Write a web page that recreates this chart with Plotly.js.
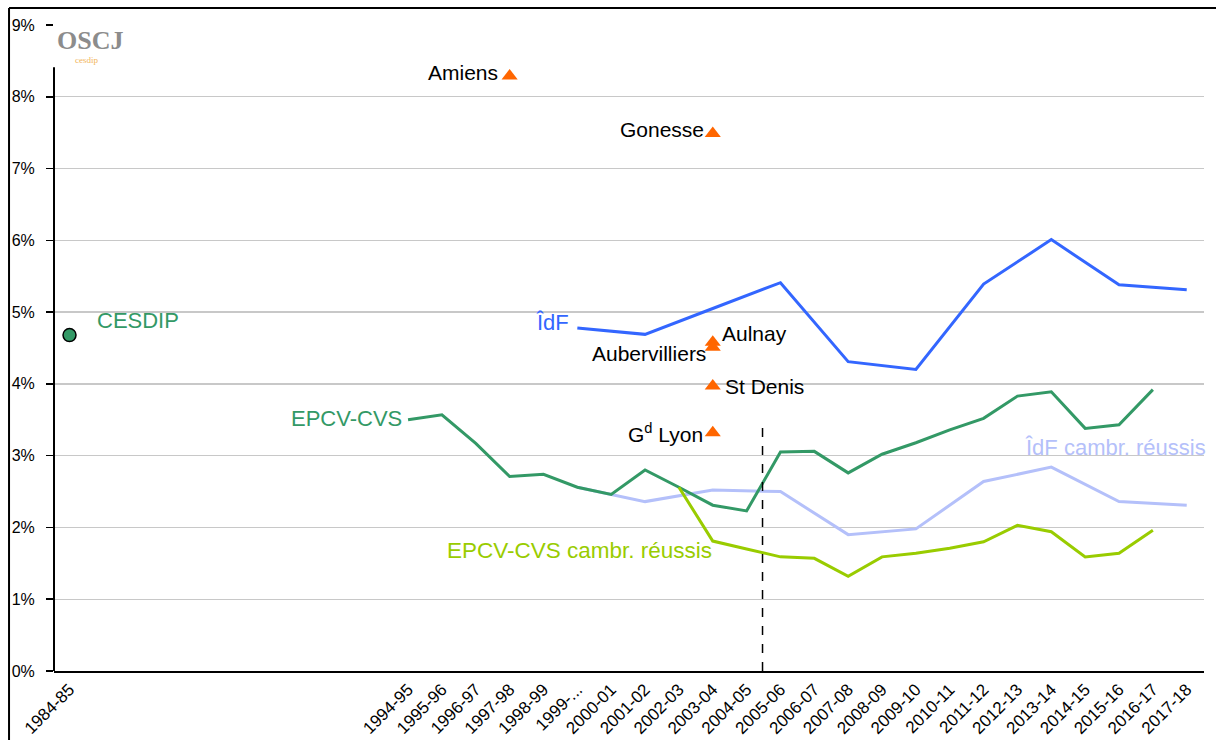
<!DOCTYPE html>
<html>
<head>
<meta charset="utf-8">
<script src="https://cdn.plot.ly/plotly-3.0.1.min.js"></script>
<style>
html,body{margin:0;padding:0;background:#fff;}
#chart{width:1216px;height:740px;}
</style>
</head>
<body>
<div id="chart"></div>
<script>
// ---- data ----
const tickYears = [1984,1994,1995,1996,1997,1998,1999,2000,2001,2002,2003,2004,2005,2006,2007,2008,2009,2010,2011,2012,2013,2014,2015,2016,2017];
const tickLabels = ['1984-85','1994-95','1995-96','1996-97','1997-98','1998-99','1999-...','2000-01','2001-02','2002-03','2003-04','2004-05','2005-06','2006-07','2007-08','2008-09','2009-10','2010-11','2011-12','2012-13','2013-14','2014-15','2015-16','2016-17','2017-18'];
const yTickVals = [0,1,2,3,4,5,6,7,8,9];
const yTickLabels = ['0%','1%','2%','3%','4%','5%','6%','7%','8%','9%'];

const idfYears = [1999,2001,2003,2005,2007,2009,2011,2013,2015,2017];
const idf      = [4.78,4.69,5.05,5.41,4.31,4.20,5.39,6.01,5.38,5.31];
const idfCambr = [2.56,2.36,2.52,2.50,1.90,1.98,2.64,2.84,2.36,2.31];

const epcvYears = [1994,1995,1996,1997,1998,1999,2000,2001,2002,2003,2004,2005,2006,2007,2008,2009,2010,2011,2012,2013,2014,2015,2016];
const epcv      = [3.50,3.57,3.17,2.71,2.74,2.56,2.46,2.80,2.56,2.31,2.23,3.05,3.06,2.76,3.02,3.18,3.36,3.52,3.83,3.89,3.38,3.43,3.92];

const epcvCambrYears = [2002,2003,2004,2005,2006,2007,2008,2009,2010,2011,2012,2013,2014,2015,2016];
const epcvCambr      = [2.56,1.81,1.70,1.59,1.57,1.32,1.59,1.64,1.71,1.80,2.03,1.94,1.59,1.64,1.96];

const cesdipYears = [1984];
const cesdip      = [4.68];

const cityNames  = ['Amiens','Gonesse','Aulnay','Aubervilliers','St Denis','G<sup>d</sup> Lyon'];
const cityYears  = [1997,2003,2003,2003,2003,2003];
const cityValues = [8.29,7.49,4.58,4.51,3.97,3.32];

// ---- styles ----
const C_BLUE = '#3366FF', C_GREEN = '#339966', C_LAV = '#B4C0FA', C_YG = '#99CC00', C_OR = '#FF6600';
const FONT = 'Liberation Sans, Arial, sans-serif';

const traces = [
  {x: idfYears, y: idfCambr, mode:'lines', line:{color:C_LAV, width:3}, hoverinfo:'skip'},
  {x: epcvYears, y: epcv, mode:'lines', line:{color:C_GREEN, width:3}, hoverinfo:'skip'},
  {x: epcvCambrYears, y: epcvCambr, mode:'lines', line:{color:C_YG, width:3}, hoverinfo:'skip'},
  {x: idfYears, y: idf, mode:'lines', line:{color:C_BLUE, width:3}, hoverinfo:'skip'},
  {x: cesdipYears, y: cesdip, mode:'markers', marker:{symbol:'circle', size:13, color:C_GREEN, line:{color:'#000', width:1.5}}, hoverinfo:'skip'},
  {x: cityYears, y: cityValues, mode:'markers', marker:{symbol:'triangle-up', size:14, color:C_OR}, hoverinfo:'skip'}
];

// city label placement (pixel offsets relative to marker)
const cityLabelPos = [
  {xanchor:'right', xshift:-10, yshift:3},
  {xanchor:'right', xshift:-7, yshift:4},
  {xanchor:'left', xshift:7, yshift:9},
  {xanchor:'right', xshift:-5, yshift:-6},
  {xanchor:'left', xshift:10, yshift:0},
  {xanchor:'right', xshift:-8, yshift:0}
];

const annotations = cityNames.map((n,i)=>Object.assign({
  x: cityYears[i], y: cityValues[i], xref:'x', yref:'y', text:n, showarrow:false,
  yanchor:'middle', font:{family:FONT, size:21, color:'#000'}
}, cityLabelPos[i]));

// series labels
annotations.push(
  {x:1998.81, y:4.86, xref:'x', yref:'y', text:'ÎdF', showarrow:false, xanchor:'right', yanchor:'middle', font:{family:FONT, size:22, color:C_BLUE}},
  {x:1984.75, y:4.88, xref:'x', yref:'y', text:'CESDIP', showarrow:false, xanchor:'left', yanchor:'middle', font:{family:FONT, size:22, color:C_GREEN}},
  {x:1993.88, y:3.52, xref:'x', yref:'y', text:'EPCV-CVS', showarrow:false, xanchor:'right', yanchor:'middle', font:{family:FONT, size:22, color:C_GREEN}},
  {x:2017, y:3.12, xref:'x', yref:'y', xshift:21, text:'ÎdF cambr. réussis', showarrow:false, xanchor:'right', yanchor:'middle', font:{family:FONT, size:22, color:C_LAV}},
  {x:2003.04, y:1.68, xref:'x', yref:'y', text:'EPCV-CVS cambr. réussis', showarrow:false, xanchor:'right', yanchor:'middle', font:{family:FONT, size:22.5, color:C_YG}},
  // logo
  {x:0.0005, y:0.976, xref:'paper', yref:'paper', text:'<b>OSCJ</b>', showarrow:false, xanchor:'left', yanchor:'middle', font:{family:'Liberation Serif, serif', size:26, color:'#8c8c8c'}},
  {x:0.028, y:0.946, xref:'paper', yref:'paper', text:'cesdip', showarrow:false, xanchor:'center', yanchor:'middle', font:{family:'Liberation Serif, serif', size:9, color:'#F2B55A'}}
);

const layout = {
  width:1216, height:740,
  margin:{l:54, r:12, t:25, b:69, pad:0},
  paper_bgcolor:'#fff', plot_bgcolor:'#fff',
  showlegend:false,
  font:{family:FONT, color:'#000'},
  xaxis:{
    range:[1983.542, 2017.51], tickmode:'array', tickvals:tickYears, ticktext:tickLabels,
    tickangle:-45, ticks:'', showgrid:false, zeroline:false,
    showline:true, linecolor:'#000', linewidth:2,
    tickfont:{family:FONT, size:17, color:'#000'}
  },
  yaxis:{
    range:[0,9], tickmode:'array', tickvals:yTickVals, ticktext:yTickLabels,
    ticks:'outside', ticklen:7, tickwidth:1.5, tickcolor:'#000',
    showgrid:true, gridcolor:'#C8C8C8', gridwidth:1.4, zeroline:false, showline:false,
    ticklabelstandoff:8,
    tickfont:{family:FONT, size:16, color:'#000'}
  },
  shapes:[
    // y axis line (interrupted by logo at top)
    {type:'line', xref:'paper', yref:'y', x0:0, x1:0, y0:0, y1:8.41, line:{color:'#000', width:2}},
    // separator dashed line
    {type:'line', xref:'x', yref:'y', x0:2004.47, x1:2004.47, y0:0, y1:3.42, line:{color:'#000', width:1.5, dash:'dash'}},
    // chart frame (top & left visible)
    {type:'line', xref:'paper', yref:'paper', x0:-0.0391, x1:1.02, y0:1.0263, y1:1.0263, line:{color:'#000', width:2}},
    {type:'line', xref:'paper', yref:'paper', x0:-0.0391, x1:-0.0391, y0:-0.2, y1:1.0263, line:{color:'#000', width:2}}
  ],
  annotations: annotations
};

Plotly.newPlot('chart', traces, layout, {staticPlot:true, displayModeBar:false});
</script>
</body>
</html>
